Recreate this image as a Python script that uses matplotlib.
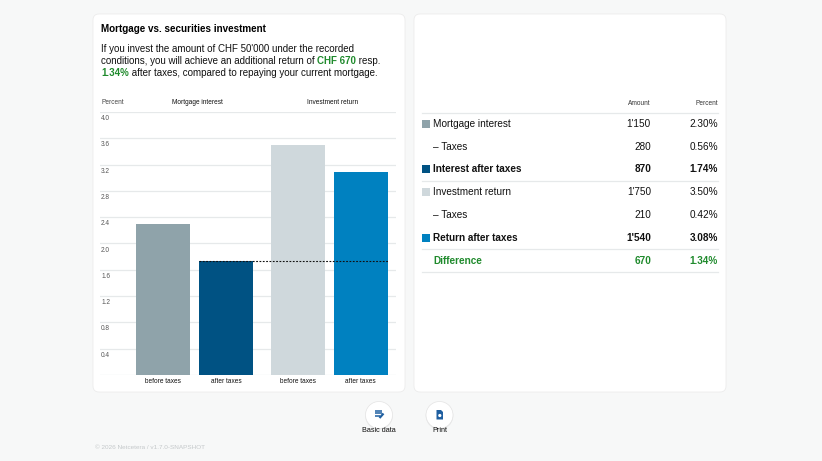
import matplotlib
matplotlib.use('Agg')
import matplotlib.pyplot as plt
from matplotlib.patches import FancyBboxPatch, Circle, Rectangle, Polygon

plt.rcParams['font.family'] = ['Liberation Sans', 'DejaVu Sans']

W, H = 822, 461

# --- chart data ---
groups = ['Mortgage interest', 'Investment return']
bar_labels = ['before taxes', 'after taxes']
values = [[2.30, 1.74], [3.50, 3.08]]
y_ticks = [0.4, 0.8, 1.2, 1.6, 2.0, 2.4, 2.8, 3.2, 3.6, 4.0]

# --- table data ---
row_labels = ['Mortgage interest', '– Taxes', 'Interest after taxes',
              'Investment return', '– Taxes', 'Return after taxes', 'Difference']
row_amounts = ["1'150", '280', '870', "1'750", '210', "1'540", '670']
row_percents = ['2.30%', '0.56%', '1.74%', '3.50%', '0.42%', '3.08%', '1.34%']

# --- texts ---
title = 'Mortgage vs. securities investment'
summary = [
    [("If you invest the amount of CHF 50'000 under the recorded", False)],
    [("conditions, you will achieve an additional return of ", False),
     ("CHF 670", True), (" resp.", False)],
    [("1.34%", True), (" after taxes, compared to repaying your current mortgage.", False)],
]
footer = '© 2026 Netcetera / v1.7.0-SNAPSHOT'
buttons = ['Basic data', 'Print']

# colores
bar_colors = [['#8fa3aa', '#005283'], ['#cfd8dc', '#0081c0']]
row_swatch = ['#8fa3aa', None, '#005283', '#cfd8dc', None, '#0081c0', None]
row_bold = [False, False, True, False, False, True, True]
row_green = [False, False, False, False, False, False, True]
GREEN = '#1f8a2c'
GRID = '#e6e9ea'
ICON = '#1f5fa0'
SMALL = 4.7

fig = plt.figure(figsize=(W / 100, H / 100), dpi=100)
fig.patch.set_facecolor('#f7f8f8')

# fondo en coordenadas de pixel
bg = fig.add_axes([0, 0, 1, 1])
bg.set_xlim(0, W)
bg.set_ylim(H, 0)
bg.axis('off')

for x0 in (93, 414):
    bg.add_patch(FancyBboxPatch((x0, 14), 312, 378,
                                boxstyle='round,pad=0,rounding_size=6',
                                facecolor='white', edgecolor='#ececec', lw=0.6))

# titulo y resumen
bg.text(101, 29, title, fontsize=7.1, fontweight='bold', va='center', ha='left')
renderer = fig.canvas.get_renderer()
for i, line in enumerate(summary):
    x = 101
    for seg, hl in line:
        t = bg.text(x, 49.2 + i * 11.8, seg, fontsize=7.05, va='center', ha='left',
                    color=GREEN if hl else '#111111',
                    fontweight='bold' if hl else 'normal')
        x += t.get_window_extent(renderer).width

# --- grafico de barras ---
ax = fig.add_axes([100 / W, (H - 375) / H, 296 / W, 263 / H])
ax.patch.set_alpha(0)
for s in ax.spines.values():
    s.set_visible(False)
ax.set_xticks([])
ax.set_yticks([])

gap = 1.14
width = 0.86
positions = []
for g, vals in enumerate(values):
    positions.append([g * (1 + gap) + b for b in range(len(vals))])

ax.set_ylim(0, max(y_ticks))
ax.set_xlim(positions[0][0] - 1.0, positions[-1][-1] + 0.56)

for v in [0] + y_ticks:
    ax.axhline(v, color=GRID, lw=0.9, zorder=0)
for v in y_ticks:
    ax.annotate(f'{v:.1f}', xy=(0, v), xycoords=('axes fraction', 'data'),
                xytext=(0.8, -2.2), textcoords='offset points',
                fontsize=SMALL, color='#555555', va='top', ha='left')

for g, vals in enumerate(values):
    ax.bar(positions[g], vals, width=width, color=bar_colors[g], zorder=2)
    for p, lab in zip(positions[g], bar_labels):
        ax.annotate(lab, xy=(p, 0), xycoords=('data', 'axes fraction'),
                    xytext=(0, -2.2), textcoords='offset points',
                    fontsize=SMALL, color='#111111', va='top', ha='center')
    ax.annotate(groups[g], xy=(sum(positions[g]) / len(positions[g]) + 0.05, 1),
                xycoords=('data', 'axes fraction'), xytext=(0, 6.5),
                textcoords='offset points', fontsize=SMALL, color='#111111',
                va='center', ha='center')

ax.annotate('Percent', xy=(0, 1), xycoords='axes fraction', xytext=(0.8, 6.5),
            textcoords='offset points', fontsize=SMALL, color='#444444',
            va='center', ha='left')

# linea punteada: interes despues de impuestos
ax.hlines(values[0][1], positions[0][1] - width / 2, positions[-1][-1] + width / 2,
          colors='#111111', linestyles=(0, (1.6, 1.4)), lw=0.8, zorder=3)

# --- tabla ---
x_sw, x_txt, x_amt, x_pct = 422, 433, 651, 718
bg.text(x_amt, 103, 'Amount', fontsize=SMALL, color='#333333', ha='right', va='center')
bg.text(x_pct, 103, 'Percent', fontsize=SMALL, color='#333333', ha='right', va='center')
bg.plot([x_sw, x_pct], [112.7, 112.7], color=GRID, lw=0.9)

row_y0, row_dy = 123.7, 22.8
for i, lab in enumerate(row_labels):
    y = row_y0 + i * row_dy
    col = GREEN if row_green[i] else '#111111'
    fw = 'bold' if row_bold[i] else 'normal'
    if row_swatch[i]:
        bg.add_patch(Rectangle((x_sw, y - 4), 8, 8, facecolor=row_swatch[i], lw=0))
    bg.text(x_txt, y, lab, fontsize=7.2, color=col, fontweight=fw, va='center', ha='left')
    bg.text(x_amt, y, row_amounts[i], fontsize=7.2, color=col, fontweight=fw,
            va='center', ha='right')
    bg.text(x_pct, y, row_percents[i], fontsize=7.2, color=col, fontweight=fw,
            va='center', ha='right')
    if i in (2, 5, 6):
        ly = y + row_dy / 2
        bg.plot([x_sw, x_pct], [ly, ly], color=GRID, lw=0.9)

# --- botones ---
for bx, lab in zip((379, 439.5), buttons):
    bg.add_patch(Circle((bx, 415.8), 13.8, facecolor='#eaeaea', lw=0))
    bg.add_patch(Circle((bx, 415), 13.5, facecolor='white', edgecolor='#e4e4e4', lw=0.5))
    bg.text(bx, 430, lab, fontsize=5.2, color='#111111', ha='center', va='center')

# icono "Basic data"
for k, ln in enumerate((7, 7, 4.5)):
    bg.plot([375, 375 + ln], [410.5 + k * 2.5, 410.5 + k * 2.5], color=ICON, lw=1.1,
            solid_capstyle='butt')
bg.plot([379.5, 383.5], [418, 413.5], color=ICON, lw=1.6, solid_capstyle='butt')

# icono "Print"
bg.add_patch(Polygon([(436.5, 410), (441, 410), (443, 412), (443, 419.5), (436.5, 419.5)],
                     closed=True, facecolor=ICON, lw=0))
bg.add_patch(Circle((439.8, 415.5), 1.6, facecolor='white', lw=0))

bg.text(95, 447, footer, fontsize=4.6, color='#c4c8ca', ha='left', va='center')

fig.savefig('out.png', dpi=100, facecolor=fig.get_facecolor())
